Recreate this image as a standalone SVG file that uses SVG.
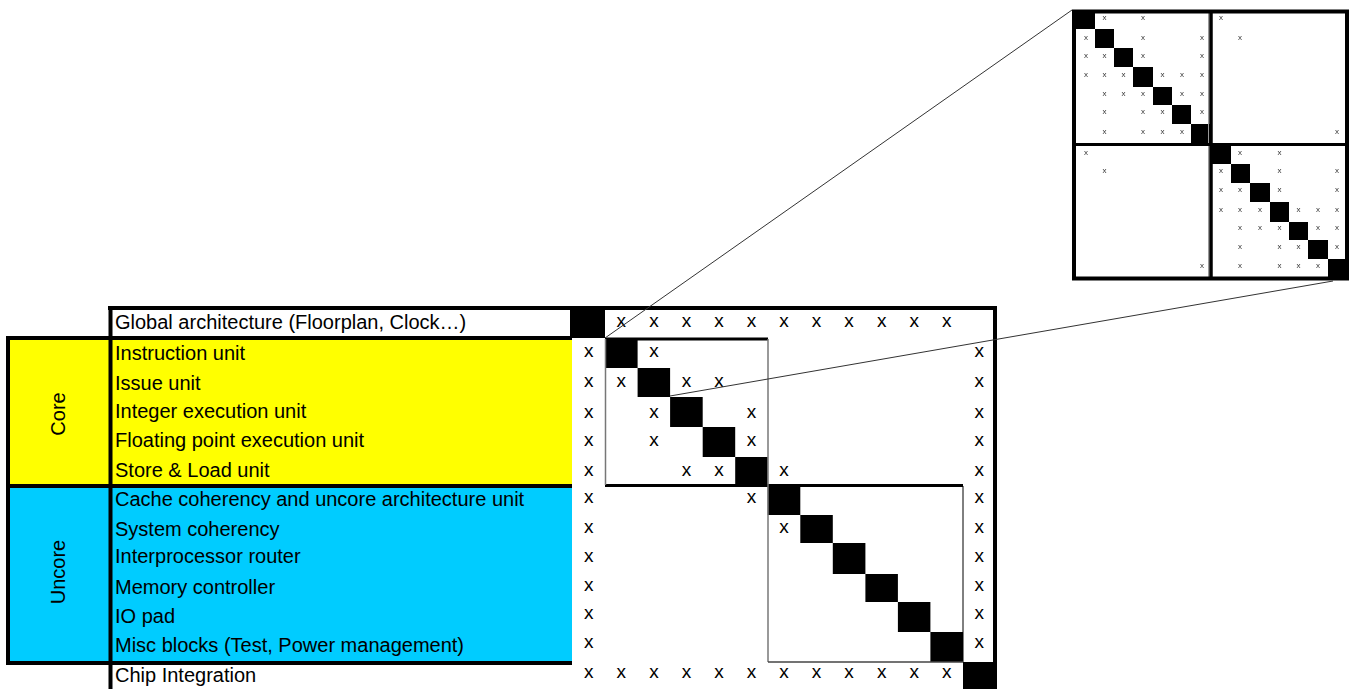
<svg xmlns="http://www.w3.org/2000/svg" width="1349" height="689" viewBox="0 0 1349 689">
<style>
.lbl{font-family:"Liberation Sans",Arial,sans-serif;font-size:20px;fill:#000}
.grp{font-family:"Liberation Sans",Arial,sans-serif;font-size:20px;fill:#000;text-anchor:middle}
.mx{font-family:"Liberation Sans",Arial,sans-serif;font-size:19px;fill:#000;text-anchor:middle}
.ix{font-family:"Liberation Sans",Arial,sans-serif;font-size:8px;fill:#333;text-anchor:middle}
.blk{fill:#000}
.thick{stroke:#000;stroke-width:4;fill:none}
.conn{stroke:#333;stroke-width:1;fill:none}
</style>
<defs>
<filter id="gray" x="0" y="0" width="1" height="1"><feOffset dx="0" dy="0"/></filter>
</defs>
<rect width="1349" height="689" fill="#fff"/>

<g id="group-core">
<rect x="8" y="338" width="564" height="148" fill="#ffff00"/>
<text class="grp" transform="translate(64.5,414) rotate(-90)">Core</text>
</g>
<g id="group-uncore">
<rect x="8" y="486" width="564" height="177" fill="#00ccff"/>
<text class="grp" transform="translate(64.5,572) rotate(-90)">Uncore</text>
</g>

<g id="frame">
<line class="thick" x1="108" y1="308" x2="997" y2="308"/>
<line class="thick" x1="110.5" y1="306" x2="110.5" y2="692"/>
<line class="thick" x1="995" y1="306" x2="995" y2="692"/>
<line class="thick" x1="8" y1="336" x2="8" y2="665"/>
<line class="thick" x1="6" y1="338" x2="572" y2="338"/>
<line class="thick" x1="6" y1="486" x2="572" y2="486"/>
<line class="thick" x1="6" y1="663" x2="572" y2="663"/>
</g>

<g id="row-labels">
<text class="lbl" x="115" y="329">Global architecture (Floorplan, Clock…)</text>
<text class="lbl" x="115" y="360">Instruction unit</text>
<text class="lbl" x="115" y="390">Issue unit</text>
<text class="lbl" x="115" y="418">Integer execution unit</text>
<text class="lbl" x="115" y="447">Floating point execution unit</text>
<text class="lbl" x="115" y="477">Store &amp; Load unit</text>
<text class="lbl" x="115" y="506">Cache coherency and uncore architecture unit</text>
<text class="lbl" x="115" y="536">System coherency</text>
<text class="lbl" x="115" y="563">Interprocessor router</text>
<text class="lbl" x="115" y="594">Memory controller</text>
<text class="lbl" x="115" y="623">IO pad</text>
<text class="lbl" x="115" y="652">Misc blocks (Test, Power management)</text>
<text class="lbl" x="115" y="682">Chip Integration</text>
</g>

<g id="matrix">
<rect class="blk" x="570" y="310" width="35" height="28"/>
<rect class="blk" x="605" y="338" width="32.6" height="30"/>
<rect class="blk" x="637.6" y="368" width="32.5" height="29"/>
<rect class="blk" x="670.1" y="397" width="32.6" height="30"/>
<rect class="blk" x="702.7" y="427" width="32.5" height="30"/>
<rect class="blk" x="735.2" y="457" width="32.5" height="30"/>
<rect class="blk" x="767.7" y="487" width="32.6" height="28"/>
<rect class="blk" x="800.3" y="515" width="32.5" height="28"/>
<rect class="blk" x="832.8" y="543" width="32.6" height="31"/>
<rect class="blk" x="865.4" y="574" width="32.5" height="28"/>
<rect class="blk" x="897.9" y="602" width="32.5" height="30"/>
<rect class="blk" x="930.4" y="632" width="32.6" height="30"/>
<rect class="blk" x="963" y="662" width="34" height="30"/>
<line x1="605" y1="339" x2="768" y2="339" stroke="#000" stroke-width="3"/>
<line x1="605" y1="485.5" x2="963" y2="485.5" stroke="#000" stroke-width="3"/>
<line x1="605.5" y1="339" x2="605.5" y2="485" stroke="#777" stroke-width="1.5"/>
<line x1="768" y1="339" x2="768" y2="662" stroke="#777" stroke-width="1.5"/>
<line x1="963" y1="486" x2="963" y2="662" stroke="#000" stroke-width="1"/>
<line x1="768" y1="662" x2="963" y2="662" stroke="#444" stroke-width="1.5"/>
<text class="mx" x="621.3 653.9 686.4 719 751.5 784 816.6 849.1 881.7 914.2 946.7" y="327">xxxxxxxxxxx</text>
<text class="mx" x="588.8 653.9 979.3" y="357">xxx</text>
<text class="mx" x="588.8 621.3 686.4 719 979.3" y="387">xxxxx</text>
<text class="mx" x="588.8 653.9 751.5 979.3" y="418">xxxx</text>
<text class="mx" x="588.8 653.9 751.5 979.3" y="446">xxxx</text>
<text class="mx" x="588.8 686.4 719 784 979.3" y="476">xxxxx</text>
<text class="mx" x="588.8 751.5 979.3" y="503">xxx</text>
<text class="mx" x="588.8 784 979.3" y="533">xxx</text>
<text class="mx" x="588.8 979.3" y="562">xx</text>
<text class="mx" x="588.8 979.3" y="591">xx</text>
<text class="mx" x="588.8 979.3" y="619">xx</text>
<text class="mx" x="588.8 979.3" y="648">xx</text>
<text class="mx" x="588.8 621.3 653.9 686.4 719 751.5 784 816.6 849.1 881.7 914.2 946.7" y="678">xxxxxxxxxxxx</text>
</g>

<g id="zoom-matrix">
<rect x="1074" y="11.5" width="273" height="267" fill="#fff"/>
<rect class="blk" x="1072" y="10" width="23" height="19"/>
<rect class="blk" x="1095" y="29" width="19" height="19"/>
<rect class="blk" x="1114" y="48" width="19" height="19"/>
<rect class="blk" x="1133" y="67" width="20" height="20"/>
<rect class="blk" x="1153" y="87" width="19" height="18"/>
<rect class="blk" x="1172" y="105" width="19" height="19"/>
<rect class="blk" x="1191" y="124" width="20" height="20"/>
<rect class="blk" x="1211" y="144" width="20" height="20"/>
<rect class="blk" x="1231" y="164" width="19" height="19"/>
<rect class="blk" x="1250" y="183" width="20" height="19"/>
<rect class="blk" x="1270" y="202" width="19" height="20"/>
<rect class="blk" x="1289" y="222" width="19" height="18"/>
<rect class="blk" x="1308" y="240" width="20" height="19"/>
<rect class="blk" x="1328" y="259" width="21" height="20"/>
<line x1="1208.5" y1="13" x2="1208.5" y2="277" stroke="#999" stroke-width="1"/>
<line x1="1211" y1="10" x2="1211" y2="279" stroke="#000" stroke-width="3.5"/>
<line x1="1072" y1="144.5" x2="1349" y2="144.5" stroke="#000" stroke-width="3"/>
<rect class="thick" x="1074" y="11.5" width="273" height="267"/>
<g filter="url(#gray)">
<text class="ix" x="1104.5 1143 1221" y="20">xxx</text>
<text class="ix" x="1086 1143 1202 1240" y="40">xxxx</text>
<text class="ix" x="1086 1104.5 1143 1202" y="58">xxxx</text>
<text class="ix" x="1086 1104.5 1123.5 1162.5 1182 1202" y="77">xxxxxx</text>
<text class="ix" x="1104.5 1123.5 1143 1182 1202" y="96">xxxxx</text>
<text class="ix" x="1104.5 1143 1162.5 1202" y="114">xxxx</text>
<text class="ix" x="1104.5 1143 1162.5 1182 1337" y="134">xxxxx</text>
<text class="ix" x="1086 1240 1279.5" y="155">xxx</text>
<text class="ix" x="1104.5 1221 1279.5 1337" y="173">xxxx</text>
<text class="ix" x="1221 1240 1279.5 1337" y="192">xxxx</text>
<text class="ix" x="1221 1240 1260 1298.5 1318 1337" y="212">xxxxxx</text>
<text class="ix" x="1240 1260 1279.5 1318 1337" y="230">xxxxx</text>
<text class="ix" x="1240 1279.5 1298.5 1337" y="249">xxxx</text>
<text class="ix" x="1202 1240 1279.5 1298.5 1318" y="268">xxxxx</text>
</g>
</g>

<g id="connectors">
<line class="conn" x1="605" y1="338" x2="1072" y2="10"/>
<line class="conn" x1="670" y1="396" x2="1333" y2="281"/>
</g>
</svg>
